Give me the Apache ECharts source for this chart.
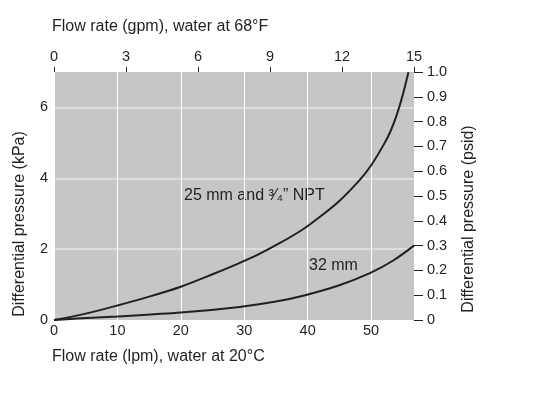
<!DOCTYPE html>
<html>
<head>
<meta charset="utf-8">
<script src="https://cdn.jsdelivr.net/npm/echarts@6/dist/echarts.min.js"></script>
<style>
  html, body { margin: 0; padding: 0; background: #fff; }
  #chart { width: 540px; height: 398px; }
</style>
</head>
<body>
<div id="chart"></div>
<script>
// flow in lpm (bottom axis), pressure drop in kPa (left axis)
const lpm25 = [0, 5, 10, 15, 20, 25, 28.5, 32, 35.5, 39.1, 42, 45, 48.3, 50, 52, 53, 54, 55, 55.9];
const kpa25 = [0, 0.18, 0.41, 0.66, 0.94, 1.29, 1.55, 1.83, 2.16, 2.54, 2.92, 3.36, 3.97, 4.36, 4.95, 5.3, 5.76, 6.35, 6.99];

const lpm32 = [0, 3.6, 10, 20, 29.3, 35, 39.6, 45, 49.9, 53.5, 56.78];
const kpa32 = [0, 0.04, 0.1, 0.21, 0.37, 0.52, 0.7, 0.98, 1.33, 1.68, 2.1];

const gpmTicks = [0, 3, 6, 9, 12, 15];
const lpmMax = 15 * 3.785;

const ink = '#231f20';
const font = 'Liberation Sans';

function pairs(xs, ys) {
  return xs.map((x, i) => [x, ys[i]]);
}

const chart = echarts.init(document.getElementById('chart'));
chart.setOption({
  animation: false,
  textStyle: { fontFamily: font, color: ink },
  grid: {
    left: 54, right: 126, top: 72, bottom: 78,
    show: true, backgroundColor: '#c5c6c8', borderWidth: 0
  },
  xAxis: [
    {
      type: 'value', position: 'bottom', min: 0, max: lpmMax, interval: 10,
      axisLine: { show: false, onZero: false }, axisTick: { show: false },
      axisLabel: { color: ink, fontSize: 14.5, margin: 3, showMaxLabel: false },
      splitLine: { show: true, showMaxLine: false, lineStyle: { color: '#ffffff', width: 1 } }
    },
    {
      type: 'value', position: 'top', min: 0, max: 15, interval: 3,
      axisLine: { show: false, onZero: false },
      axisTick: { show: true, length: 5, lineStyle: { color: ink, width: 1 } },
      axisLabel: { color: ink, fontSize: 14.5, margin: 8,
        formatter: v => gpmTicks.includes(v) ? String(v) : '' },
      splitLine: { show: false }
    }
  ],
  yAxis: [
    {
      type: 'value', position: 'left', min: 0, max: 7, interval: 2,
      axisLine: { show: false, onZero: false }, axisTick: { show: false },
      axisLabel: { color: ink, fontSize: 14.5, margin: 6, showMaxLabel: false },
      splitLine: { show: true, showMinLine: false, showMaxLine: false,
        lineStyle: { color: '#e4e4e4', width: 1.5 } }
    },
    {
      type: 'value', position: 'right', min: 0, max: 1, interval: 0.1,
      axisLine: { show: false, onZero: false },
      axisTick: { show: true, length: 9, lineStyle: { color: ink, width: 1 } },
      axisLabel: { color: ink, fontSize: 14.5, margin: 13,
        formatter: v => v === 0 ? '0' : v.toFixed(1) },
      splitLine: { show: false }
    }
  ],
  series: [
    {
      name: '25 mm and ¾" NPT', type: 'line', xAxisIndex: 0, yAxisIndex: 0,
      data: pairs(lpm25, kpa25), showSymbol: false, smooth: 0.3,
      lineStyle: { color: ink, width: 2 }
    },
    {
      name: '32 mm', type: 'line', xAxisIndex: 0, yAxisIndex: 0,
      data: pairs(lpm32, kpa32), showSymbol: false, smooth: 0.3,
      lineStyle: { color: ink, width: 2 }
    }
  ],
  graphic: [
    { type: 'text', left: 52, top: 19,
      style: { text: 'Flow rate (gpm), water at 68°F', font: '16px "Liberation Sans"', fill: ink } },
    { type: 'text', left: 52, top: 349,
      style: { text: 'Flow rate (lpm), water at 20°C', font: '16px "Liberation Sans"', fill: ink } },
    { type: 'text', x: 20, y: 224, rotation: Math.PI / 2,
      style: { text: 'Differential pressure (kPa)', font: '16px "Liberation Sans"', fill: ink,
        align: 'center', verticalAlign: 'middle' } },
    { type: 'text', x: 469, y: 219, rotation: Math.PI / 2,
      style: { text: 'Differential pressure (psid)', font: '16px "Liberation Sans"', fill: ink,
        align: 'center', verticalAlign: 'middle' } },
    { type: 'text', x: 184, y: 196,
      style: { text: '25 mm and \u00B3\u2044\u2084\u201D NPT', font: '16px "Liberation Sans"', fill: ink,
        verticalAlign: 'middle' } },
    { type: 'text', x: 309, y: 266,
      style: { text: '32 mm', font: '16px "Liberation Sans"', fill: ink, verticalAlign: 'middle' } }
  ]
});
</script>
</body>
</html>
